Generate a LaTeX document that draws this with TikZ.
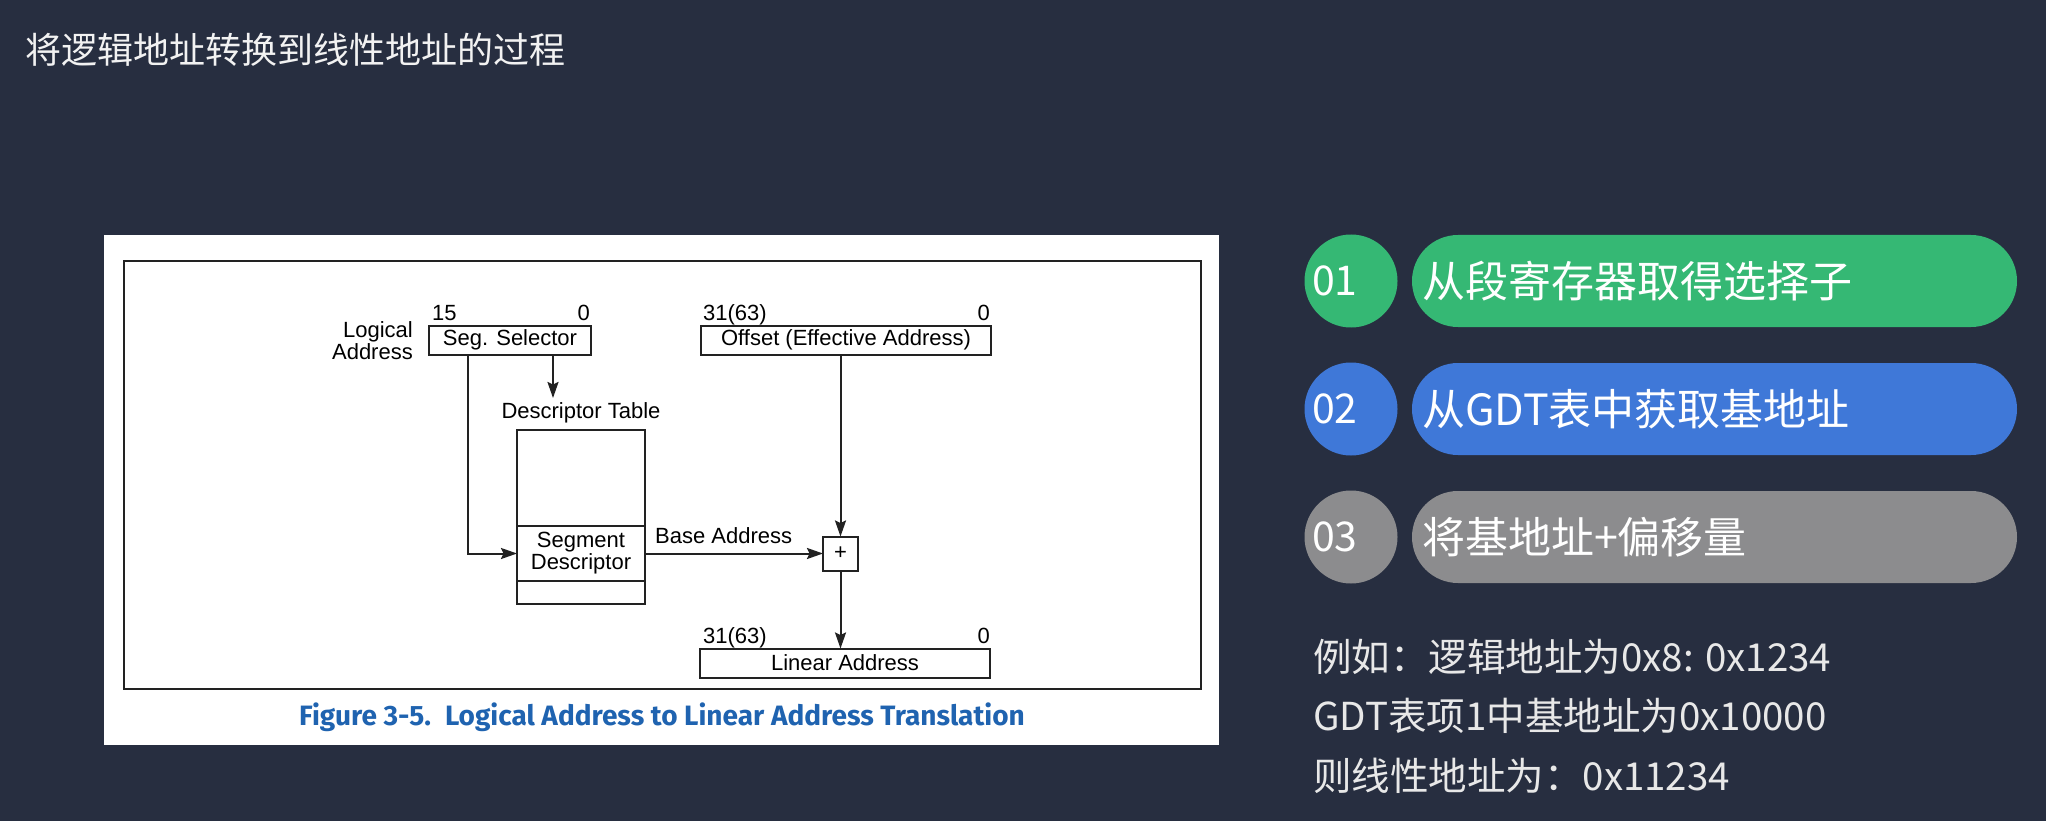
\documentclass[tikz,border=0pt]{standalone}
\usepackage{fontspec}
\setmainfont{Liberation Sans}
\newfontfamily\cjk{Noto Sans CJK SC}
\newfontfamily\capfont{Fira Sans}
\usetikzlibrary{arrows.meta,positioning}

\definecolor{bgclr}{HTML}{272E40}
\definecolor{titleclr}{HTML}{F2F2F2}
\definecolor{exclr}{HTML}{E8E8E8}
\definecolor{lineclr}{HTML}{222222}
\definecolor{capclr}{HTML}{1F63B0}
\definecolor{stepgreen}{HTML}{35B874}
\definecolor{stepblue}{HTML}{3F78D8}
\definecolor{stepgray}{HTML}{8C8C8E}

\newcommand\diagfont{\fontsize{22}{22}\selectfont}

\begin{document}
\begin{tikzpicture}[x=1pt, y=-1pt,
        field/.style={draw=lineclr, line width=2pt, inner sep=0pt, outer sep=0pt, minimum height=29pt, font=\diagfont},
        arr/.style={-{Stealth[length=16pt,width=11pt,inset=2.5pt]}, line width=2pt, draw=lineclr},
        pill/.style={rounded corners=46pt, minimum height=92pt, inner ysep=0pt, inner xsep=10pt, text width=585pt, align=left, text=white, font=\cjk\fontsize{43}{43}\selectfont},
        num/.style={circle, minimum size=93pt, inner sep=0pt, text width=78pt, align=left, text=white, font=\cjk\fontsize{41}{41}\selectfont}]

    % Background and title
    \fill[bgclr] (0,0) rectangle (2046,821);
    \useasboundingbox (0,0) rectangle (2046,821);
    \node[anchor=west, text=titleclr, font=\cjk\fontsize{36}{36}\selectfont] (title) at (22,50) {将逻辑地址转换到线性地址的过程};

    % White sheet with the figure
    \fill[white] (104,235) rectangle (1219,745);
    \draw[lineclr, line width=2.4pt] (124,261) rectangle (1201,689);
    \node[text=capclr, font=\capfont\bfseries\fontsize{28}{28}\selectfont] (caption) at (662,717) {Figure 3-5.\hspace{0.5em}Logical Address to Linear Address Translation};

    % Logical address
    \node[field, minimum width=162pt] (seg) at (510,340) {Seg. Selector};
    \node[field, minimum width=290pt] (offset) at (846,340) {Offset (Effective Address)};
    \node[anchor=east, align=right, font=\diagfont, inner sep=0pt] (logical) at (413,341) {Logical\\Address};
    \node[anchor=base west, font=\diagfont, inner sep=0pt] (segHi) at (432,320) {15};
    \node[anchor=base east, font=\diagfont, inner sep=0pt] (segLo) at (590,320) {0};
    \node[anchor=base west, font=\diagfont, inner sep=0pt] (offHi) at (703,320) {31(63)};
    \node[anchor=base east, font=\diagfont, inner sep=0pt] (offLo) at (990,320) {0};

    % Descriptor table
    \node[font=\diagfont, inner sep=0pt] (dtlabel) at (581,413) {Descriptor Table};
    \node[field, minimum width=128pt, minimum height=96pt] (dtop) at (581,478) {};
    \node[field, minimum width=128pt, minimum height=55pt, below=0pt of dtop, align=center] (segdesc) {Segment\\Descriptor};
    \node[field, minimum width=128pt, minimum height=23pt, below=0pt of segdesc] (dbot) {};

    % Adder and linear address
    \node[field, minimum width=35pt, minimum height=34pt] (plus) at (840.5,553.5) {+};
    \node[field, minimum width=290pt] (linear) at (845,663) {Linear Address};
    \node[anchor=base west, font=\diagfont, inner sep=0pt] (linHi) at (703,643) {31(63)};
    \node[anchor=base east, font=\diagfont, inner sep=0pt] (linLo) at (990,643) {0};

    % Arrows
    \coordinate (dtin) at (553,398);
    \draw[arr] (seg.south -| dtin) -- (dtin);
    \draw[arr] ([xshift=-42pt]seg.south) |- (segdesc.west);
    \draw[arr] (segdesc.east) -- (plus.west);
    \node[anchor=west, font=\diagfont, inner sep=0pt] (baselbl) at (655,536) {Base Address};
    \draw[arr] (offset.south -| plus.north) -- (plus.north);
    \draw[arr] (plus.south) -- (linear.north -| plus.south);

    % Steps
    \foreach \n/\c/\t [count=\i] in {01/stepgreen/从段寄存器取得选择子, 02/stepblue/从GDT表中获取基地址, 03/stepgray/将基地址+偏移量} {
        \node[num, fill=\c] (num\i) at (1351,{153+128*\i}) {\n};
        \node[pill, fill=\c] (pill\i) at (1714.5,{153+128*\i}) {\t};
    }

    % Example
    \node[anchor=west, align=left, text=exclr, font=\cjk\fontsize{38.5}{59.5}\selectfont, inner sep=0pt] (example) at (1313,716) {例如：逻辑地址为0x8: 0x1234\\GDT表项1中基地址为0x10000\\则线性地址为：0x11234};
\end{tikzpicture}
\end{document}
